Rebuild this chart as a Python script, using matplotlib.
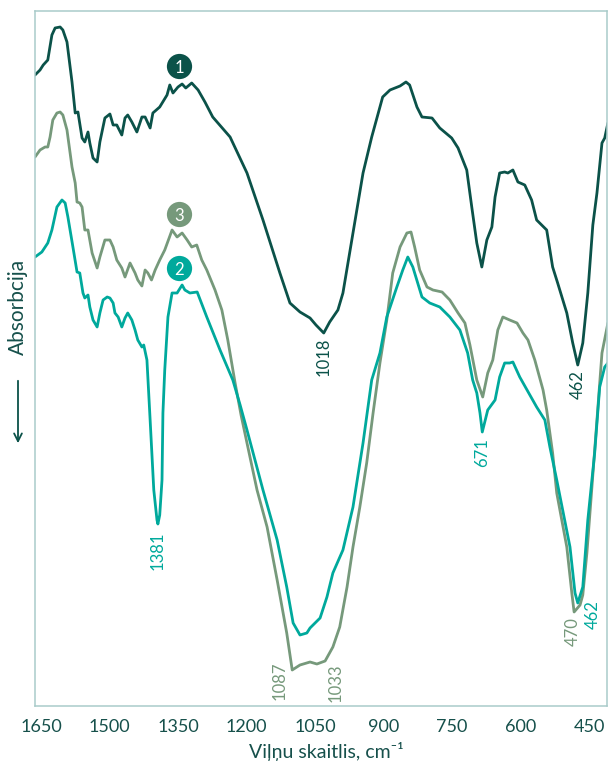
import numpy as np
import matplotlib.pyplot as plt
from matplotlib.transforms import ScaledTranslation

plt.rcParams['font.family'] = ['Lato', 'DejaVu Sans']

# IR spektri: vilnu skaitlis (cm-1) un relativa intensitate (bez vienibam)
wn1 = [1650, 1639, 1632, 1622, 1613, 1606, 1595, 1589, 1580, 1569, 1562, 1556,
       1547, 1541, 1534, 1530, 1523, 1514, 1508, 1497, 1486, 1479, 1471, 1460,
       1453, 1447, 1438, 1427, 1416, 1409, 1398, 1392, 1377, 1361, 1355, 1348,
       1337, 1328, 1320, 1307, 1293, 1278, 1261, 1223, 1186, 1151, 1114, 1092,
       1070, 1048, 1035, 1018, 1005, 987, 976, 954, 932, 913, 889, 873, 851,
       838, 830, 814, 803, 781, 764, 738, 724, 705, 694, 683, 672, 661, 650,
       643, 633, 622, 615, 604, 593, 578, 563, 552, 530, 517, 506, 486, 473,
       462, 451, 440, 429, 420, 409, 403, 396]
t1 = [631, 636, 641, 646, 671, 678, 679, 676, 664, 624, 593, 594,
      568, 564, 574, 563, 548, 544, 564, 588, 592, 581, 581, 571,
      588, 591, 584, 574, 589, 589, 578, 593, 599, 611, 621, 613,
      619, 622, 618, 623, 616, 604, 589, 569, 533, 486, 433, 403,
      394, 388, 381, 373, 384, 396, 413, 473, 533, 569, 609, 616, 620,
      624, 621, 599, 589, 588, 578, 568, 558, 536, 499, 463, 439, 466, 479,
      509, 533, 534, 533, 536, 524, 521, 506, 486, 476, 439, 423, 393, 363,
      341, 363, 413, 481, 513, 563, 568, 583]

wn2 = [1650, 1635, 1622, 1613, 1602, 1591, 1584, 1578, 1567, 1558, 1552, 1545,
       1541, 1534, 1530, 1523, 1514, 1508, 1501, 1492, 1486, 1479, 1475, 1468,
       1460, 1453, 1447, 1438, 1431, 1425, 1416, 1412, 1405, 1398, 1390, 1383,
       1381, 1377, 1372, 1370, 1366, 1359, 1350, 1339, 1328, 1322, 1311, 1295,
       1274, 1245, 1217, 1201, 1186, 1151, 1120, 1099, 1085, 1070, 1055, 1048,
       1026, 1011, 998, 976, 954, 932, 913, 895, 880, 858, 845, 834, 823, 803,
       786, 764, 742, 720, 703, 692, 683, 676, 671, 659, 643, 633, 622, 611,
       604, 589, 573, 552, 534, 523, 508, 495, 479, 468, 462, 451, 440, 425,
       414, 403, 396]
t2 = [449, 454, 463, 476, 499, 506, 503, 489, 459, 434, 433, 413,
      408, 411, 399, 386, 379, 393, 406, 409, 408, 403, 393, 389,
      379, 388, 393, 386, 376, 366, 359, 361, 346, 286, 216, 186,
      182, 191, 226, 293, 336, 389, 413, 413, 421, 416, 413, 414,
      389, 356, 326, 301, 276, 216, 166, 119, 83, 71, 73, 78,
      88, 109, 133, 156, 199, 263, 326, 353, 389, 419, 436, 449, 439, 409,
      403, 399, 389, 376, 353, 326, 313, 293, 274, 296, 306, 329, 343, 343,
      344, 329, 316, 299, 286, 259, 226, 196, 159, 113, 103, 119, 186, 253,
      319, 339, 343]

wn3 = [1650, 1639, 1628, 1622, 1617, 1611, 1602, 1595, 1589, 1580, 1569, 1562,
       1558, 1552, 1547, 1541, 1534, 1525, 1514, 1508, 1497, 1486, 1479, 1471,
       1460, 1453, 1442, 1431, 1425, 1416, 1409, 1403, 1395, 1387, 1377, 1366,
       1350, 1339, 1328, 1317, 1307, 1296, 1285, 1274, 1256, 1241, 1228, 1212,
       1199, 1186, 1164, 1142, 1120, 1099, 1087, 1070, 1048, 1033, 1015, 998,
       983, 967, 954, 939, 924, 910, 895, 880, 867, 851, 836, 827, 819, 808,
       792, 779, 759, 742, 724, 709, 698, 683, 670, 659, 648, 637, 626, 611,
       595, 582, 571, 556, 538, 530, 517, 508, 497, 486, 475, 470, 457, 451,
       442, 431, 420, 409, 396]
t3 = [549, 556, 559, 559, 569, 586, 593, 594, 591, 576, 539, 523,
      504, 503, 499, 476, 476, 453, 438, 449, 466, 466, 459, 446,
      438, 429, 443, 433, 426, 420, 436, 433, 426, 436, 446, 456,
      476, 469, 473, 466, 459, 461, 446, 436, 416, 396, 366, 323,
      291, 263, 216, 179, 126, 73, 36, 41, 44, 42, 45, 59,
      79, 119, 159, 199, 243, 293, 343, 386, 433, 459, 473, 474, 459, 436,
      419, 416, 414, 406, 393, 383, 361, 326, 309, 333, 346, 376, 389, 386,
      383, 373, 366, 346, 316, 296, 253, 213, 186, 159, 113, 94, 101, 111,
      153, 219, 286, 353, 383]

dark = '#0b5249'
teal = '#00a99c'
sage = '#76997b'
ink = '#16504b'

fig = plt.figure(figsize=(6.08, 7.65), dpi=100)
ax = fig.add_axes([35 / 608, 59 / 765, 572 / 608, 695 / 765])

style = dict(lw=2.0, solid_joinstyle='round', solid_capstyle='round')
ax.plot(wn3, t3, color=sage, **style)
ax.plot(wn2, t2, color=teal, **style)
ax.plot(wn1, t1, color=dark, **style)

ax.set_xlim(1650, 398)
ax.set_ylim(0, 695)
ax.set_yticks([])
ax.set_xticks([1650, 1500, 1350, 1200, 1050, 900, 750, 600, 450])
ax.tick_params(axis='x', length=0, pad=9, labelsize=13, labelcolor=ink)
for lbl in ax.get_xticklabels():
    lbl.set_transform(lbl.get_transform() + ScaledTranslation(0.06, 0, fig.dpi_scale_trans))
for sp in ax.spines.values():
    sp.set_color('#a9cbca')
    sp.set_linewidth(1.1)

ax.set_xlabel('Viļņu skaitlis, cm⁻¹', fontsize=14, color=ink, labelpad=9)
ax.xaxis.set_label_coords(0.51, -0.052)

# numuri pie liknem
for x, y, c, n in [(1335, 640, dark, '1'), (1335, 492, sage, '3'), (1335, 438, teal, '2')]:
    ax.scatter([x], [y], s=330, color=c, zorder=5, linewidths=0)
    ax.text(x, y - 2, n, color='white', fontsize=12, ha='center', va='center', zorder=6)

# maksimumu paraksti
peaks = [(1018, 369, '1018', dark), (462, 336, '462', dark),
         (1381, 174, '1381', teal), (671, 268, '671', teal), (429, 106, '462', teal),
         (1114, 44, '1087', sage), (991, 43, '1033', sage), (473, 89, '470', sage)]
for x, y, s, c in peaks:
    ax.text(x, y, s, rotation=90, ha='center', va='top', fontsize=12, color=c)

fig.text(18 / 608, 1 - 307 / 765, 'Absorbcija', rotation=90, ha='center', va='center',
         fontsize=15, color=ink)
fig.patches.append(plt.matplotlib.patches.FancyArrowPatch(
    (18, 765 - 378), (18, 765 - 446), transform=None, arrowstyle='->', mutation_scale=14,
    color=dark, lw=1.3))

fig.savefig('out.png', dpi=100)
